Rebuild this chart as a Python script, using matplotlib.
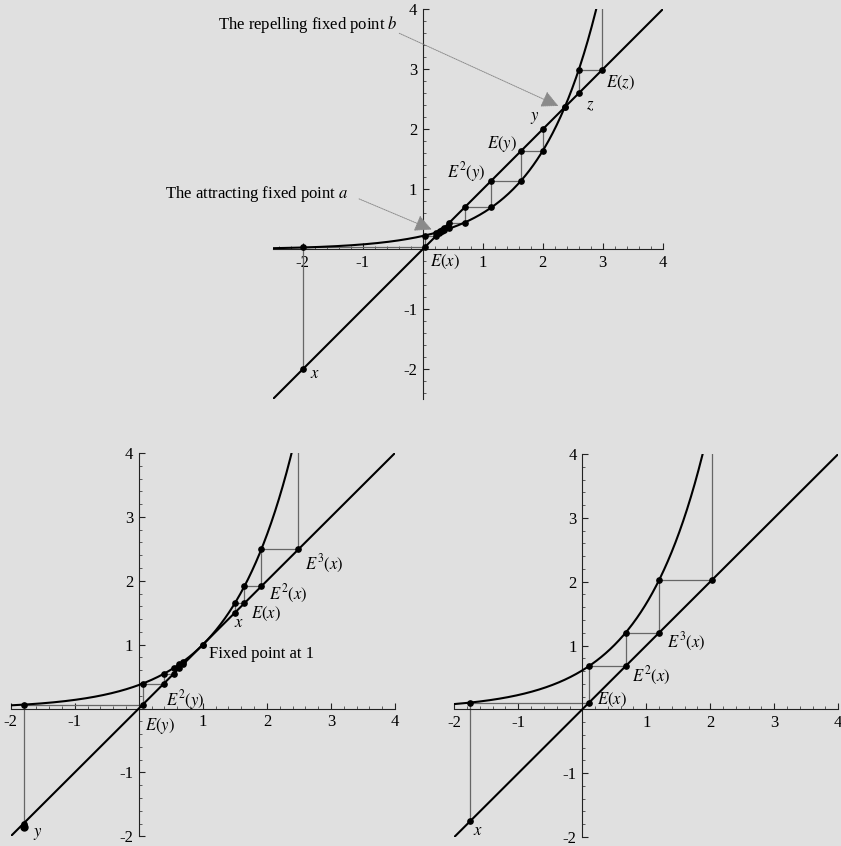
import numpy as np
import matplotlib
matplotlib.use('Agg')
import matplotlib.pyplot as plt
from matplotlib.ticker import MultipleLocator, FixedLocator

plt.rcParams['font.family'] = ['Liberation Serif', 'DejaVu Serif']
plt.rcParams['mathtext.fontset'] = 'stix'
plt.rcParams['axes.unicode_minus'] = False

# E(x) = lam * exp(x) for the three cases
lam_top = 0.222
lam_left = 0.368
lam_right = 0.61

# orbits (x0, E(x0), E^2(x0), ...)
top_orbit_x = [-2.0, 0.030, 0.229, 0.279, 0.294, 0.300]
top_orbit_y = [2.0, 1.640, 1.146, 0.698, 0.446, 0.347, 0.314, 0.304]
top_orbit_z = [2.6, 2.989, 4.41]
top_fixed_b = 2.37

left_orbit_x = [1.5, 1.649, 1.913, 2.492, 4.45]
left_orbit_y = [-1.8, 0.061, 0.391, 0.544, 0.634, 0.694, 0.736]
left_fixed = 1.0

right_orbit_x = [-1.75, 0.106, 0.678, 1.202, 2.029, 4.64]

tick_vals = [-2, -1, 1, 2, 3, 4]

W, H = 841, 846
BG = '#e0e0e0'
fig = plt.figure(figsize=(W / 100, H / 100), dpi=100, facecolor=BG)


def px_axes(left, top, right, bottom):
    return fig.add_axes([left / W, 1 - bottom / H, (right - left) / W, (bottom - top) / H])


def setup(ax, lo):
    ax.set_xlim(lo, 4)
    ax.set_ylim(lo, 4)
    ax.set_facecolor('none')
    for s in ['top', 'right']:
        ax.spines[s].set_visible(False)
    ax.spines['left'].set_position(('data', 0))
    ax.spines['bottom'].set_position(('data', 0))
    for s in ['left', 'bottom']:
        ax.spines[s].set_linewidth(0.8)
        ax.spines[s].set_color('#222222')
    ax.xaxis.set_major_locator(FixedLocator(tick_vals))
    ax.yaxis.set_major_locator(FixedLocator(tick_vals))
    ax.xaxis.set_minor_locator(MultipleLocator(0.2))
    ax.yaxis.set_minor_locator(MultipleLocator(0.2))
    ax.set_xticklabels([str(t) for t in tick_vals])
    ax.set_yticklabels([str(t) for t in tick_vals])
    ax.tick_params(which='major', direction='in', length=4, width=0.8, labelsize=12, pad=4, color='#222222')
    ax.tick_params(which='minor', direction='in', length=2, width=0.6, color='#444444')


def draw_map(ax, lam, lo):
    xs = np.linspace(lo, 4, 600)
    ax.plot(xs, lam * np.exp(xs), color='black', lw=1.5, zorder=3)
    ax.plot([lo, 4], [lo, 4], color='black', lw=1.5, zorder=3)


def cobweb(ax, orbit):
    px, py = [orbit[0]], [orbit[0]]
    for a, b in zip(orbit[:-1], orbit[1:]):
        px += [a, b]
        py += [b, b]
    ax.plot(px[:-1], py[:-1], color='#666666', lw=0.9, zorder=2)
    # dots on the curve and on the diagonal, inside the window only
    dx = [p for p, q in zip(px[:-1], py[:-1]) if q < 4]
    dy = [q for q in py[:-1] if q < 4]
    ax.plot(dx, dy, 'o', color='black', ms=3.8, zorder=4)


def label(ax, x, y, s, ha='center'):
    ax.text(x, y, s, fontsize=12, ha=ha, va='center')


# top panel: two fixed points
ax1 = px_axes(272.7, 9.3, 662.7, 399.3)
setup(ax1, -2.5)
draw_map(ax1, lam_top, -2.5)
cobweb(ax1, top_orbit_x)
cobweb(ax1, top_orbit_y)
cobweb(ax1, top_orbit_z)
ax1.plot([top_fixed_b], [top_fixed_b], 'o', color='black', ms=4, zorder=4)
label(ax1, 0.37, -0.21, r'$E(x)$')
label(ax1, -1.8, -2.08, r'$x$')
label(ax1, 2.79, 2.4, r'$z$')
label(ax1, 3.3, 2.77, r'$E(z)$')
label(ax1, 1.87, 2.19, r'$y$')
label(ax1, 1.32, 1.75, r'$E(y)$')
label(ax1, 0.72, 1.29, r'$E^{2}(y)$')
label(ax1, -0.41, 3.74, r'The repelling fixed point $b$', ha='right')
label(ax1, -1.23, 0.93, r'The attracting fixed point $a$', ha='right')
arrow = dict(arrowstyle='-|>', color='#8a8a8a', lw=0.7, linestyle=(0, (1, 1)),
             mutation_scale=26, shrinkA=0, shrinkB=0)
ax1.annotate('', xy=(2.26, 2.39), xytext=(-0.39, 3.6), arrowprops=arrow, zorder=5)
ax1.annotate('', xy=(0.15, 0.33), xytext=(-1.06, 0.84), arrowprops=arrow, zorder=5)

# bottom left: tangent fixed point at 1
ax2 = px_axes(10.7, 453, 395, 836.3)
setup(ax2, -2)
draw_map(ax2, lam_left, -2)
cobweb(ax2, left_orbit_x)
cobweb(ax2, left_orbit_y)
ax2.plot([left_orbit_y[0]], [left_orbit_y[0] - 0.06], 'o', color='black', ms=5, zorder=4)
ax2.plot([left_fixed], [left_fixed], 'o', color='black', ms=4, zorder=4)
label(ax2, 1.09, 0.85, 'Fixed point at 1', ha='left')
label(ax2, 2.9, 2.26, r'$E^{3}(x)$')
label(ax2, 2.34, 1.79, r'$E^{2}(x)$')
label(ax2, 1.99, 1.48, r'$E(x)$')
label(ax2, 1.57, 1.34, r'$x$')
label(ax2, 0.72, 0.14, r'$E^{2}(y)$')
label(ax2, 0.33, -0.27, r'$E(y)$')
label(ax2, -1.58, -1.96, r'$y$')

# bottom right: no fixed point
ax3 = px_axes(454.3, 454, 838.3, 837)
setup(ax3, -2)
draw_map(ax3, lam_right, -2)
cobweb(ax3, right_orbit_x)
label(ax3, 1.62, 1.06, r'$E^{3}(x)$')
label(ax3, 1.07, 0.53, r'$E^{2}(x)$')
label(ax3, 0.46, 0.14, r'$E(x)$')
label(ax3, -1.63, -1.9, r'$x$')

fig.savefig('out.png', dpi=100, facecolor=BG)
